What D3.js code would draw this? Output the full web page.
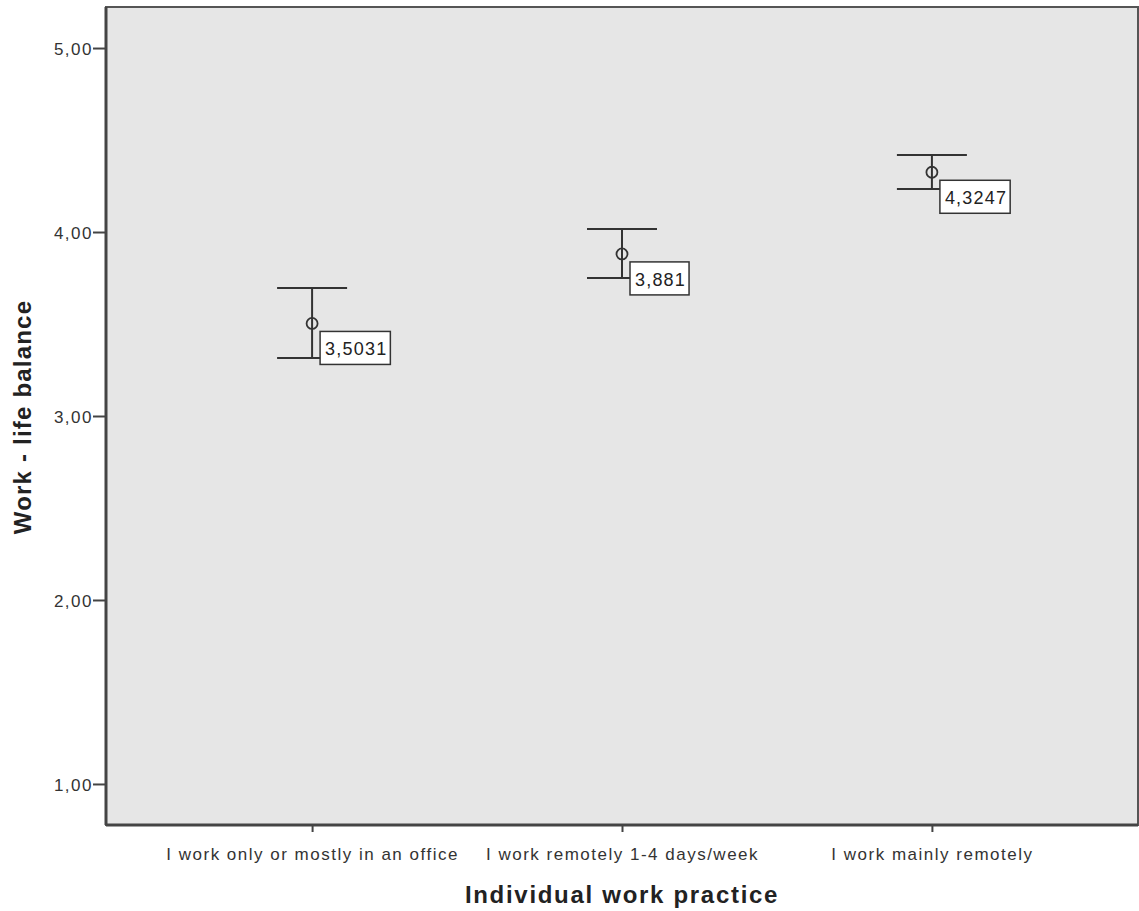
<!DOCTYPE html>
<html>
<head>
<meta charset="utf-8">
<script src="https://cdn.jsdelivr.net/npm/d3@7"></script>
<style>
  html, body { margin: 0; padding: 0; background: #fff; }
  svg { display: block; font-family: Arial, "Liberation Sans", sans-serif; }
</style>
</head>
<body>
<svg id="chart" width="1139" height="911"></svg>
<script>
// Mean work-life balance by work practice, with error bars
const categories = [
  "I work only or mostly in an office",
  "I work remotely 1-4 days/week",
  "I work mainly remotely"
];
const means = [3.5031, 3.881, 4.3247];
const upper = [3.696, 4.016, 4.418];
const lower = [3.315, 3.750, 4.234];
const meanLabels = ["3,5031", "3,881", "4,3247"];
const yTicks = [1, 2, 3, 4, 5];
const yTickLabels = ["1,00", "2,00", "3,00", "4,00", "5,00"];

const svg = d3.select("#chart");
const plot = { left: 106, right: 1138, top: 7, bottom: 825 };
const FONT = "Arial, 'Liberation Sans', sans-serif";

const y = d3.scaleLinear().domain([0.777, 5.223]).range([plot.bottom, plot.top]);
const x = d3.scalePoint().domain(categories).range([plot.left, plot.right]).padding(0.665);

// plot background
svg.append("rect")
  .attr("x", plot.left).attr("y", plot.top)
  .attr("width", plot.right - plot.left).attr("height", plot.bottom - plot.top)
  .attr("fill", "#e6e6e6");

// y axis
const yAxis = svg.append("g")
  .attr("transform", `translate(${plot.left},0)`)
  .call(d3.axisLeft(y).tickValues(yTicks).tickSize(13).tickPadding(0)
    .tickFormat((d, i) => yTickLabels[i]));
yAxis.select(".domain").remove();
yAxis.selectAll(".tick line").attr("stroke", "#444").attr("stroke-width", 2);
yAxis.selectAll(".tick text")
  .attr("fill", "#333").attr("font-size", 17).attr("font-family", FONT)
  .attr("letter-spacing", 1.5).attr("dy", "0.36em");

// x axis
const xAxis = svg.append("g")
  .attr("transform", `translate(0,${plot.bottom})`)
  .call(d3.axisBottom(x).tickSize(7));
xAxis.select(".domain").remove();
xAxis.selectAll(".tick line").attr("stroke", "#444").attr("stroke-width", 2);
xAxis.selectAll(".tick text")
  .attr("fill", "#333").attr("font-size", 17).attr("font-family", FONT)
  .attr("letter-spacing", 1.5).attr("y", 35).attr("dy", null);

// frame
svg.append("rect")
  .attr("x", plot.left).attr("y", plot.top)
  .attr("width", plot.right - plot.left).attr("height", plot.bottom - plot.top)
  .attr("fill", "none").attr("stroke", "#555").attr("stroke-width", 2);
svg.append("line")
  .attr("x1", plot.left).attr("x2", plot.left)
  .attr("y1", plot.top).attr("y2", plot.bottom)
  .attr("stroke", "#444").attr("stroke-width", 3);
svg.append("line")
  .attr("x1", plot.left).attr("x2", plot.right)
  .attr("y1", plot.bottom).attr("y2", plot.bottom)
  .attr("stroke", "#444").attr("stroke-width", 3);

// error bars
const capHalf = 35;
const g = svg.append("g");
categories.forEach((c, i) => {
  const cx = x(c);
  g.append("line")
    .attr("x1", cx).attr("x2", cx)
    .attr("y1", y(upper[i])).attr("y2", y(lower[i]))
    .attr("stroke", "#333").attr("stroke-width", 2);
  [upper[i], lower[i]].forEach(v => {
    g.append("line")
      .attr("x1", cx - capHalf).attr("x2", cx + capHalf)
      .attr("y1", y(v)).attr("y2", y(v))
      .attr("stroke", "#333").attr("stroke-width", 2);
  });
  g.append("circle")
    .attr("cx", cx).attr("cy", y(means[i])).attr("r", 5.5)
    .attr("fill", "none").attr("stroke", "#333").attr("stroke-width", 1.8);

  // value label box
  const lbl = g.append("g").attr("transform", `translate(${cx + 8},${y(means[i]) + 8})`);
  const t = lbl.append("text")
    .attr("x", 5).attr("y", 24)
    .attr("font-size", 18).attr("letter-spacing", 1.2).attr("fill", "#222")
    .text(meanLabels[i]);
  const w = t.node().getComputedTextLength();
  lbl.insert("rect", "text")
    .attr("x", 0).attr("y", 0)
    .attr("width", w + 8).attr("height", 33)
    .attr("fill", "#fff").attr("stroke", "#333").attr("stroke-width", 1.5);
});

// axis titles
svg.append("text")
  .attr("x", (plot.left + plot.right) / 2).attr("y", 903)
  .attr("text-anchor", "middle")
  .attr("font-size", 24).attr("font-weight", "bold").attr("letter-spacing", 1.7)
  .attr("fill", "#222")
  .text("Individual work practice");
svg.append("text")
  .attr("transform", `translate(31,417) rotate(-90)`)
  .attr("text-anchor", "middle")
  .attr("font-size", 24).attr("font-weight", "bold").attr("letter-spacing", 1.2)
  .attr("fill", "#222")
  .text("Work - life balance");
</script>
</body>
</html>
